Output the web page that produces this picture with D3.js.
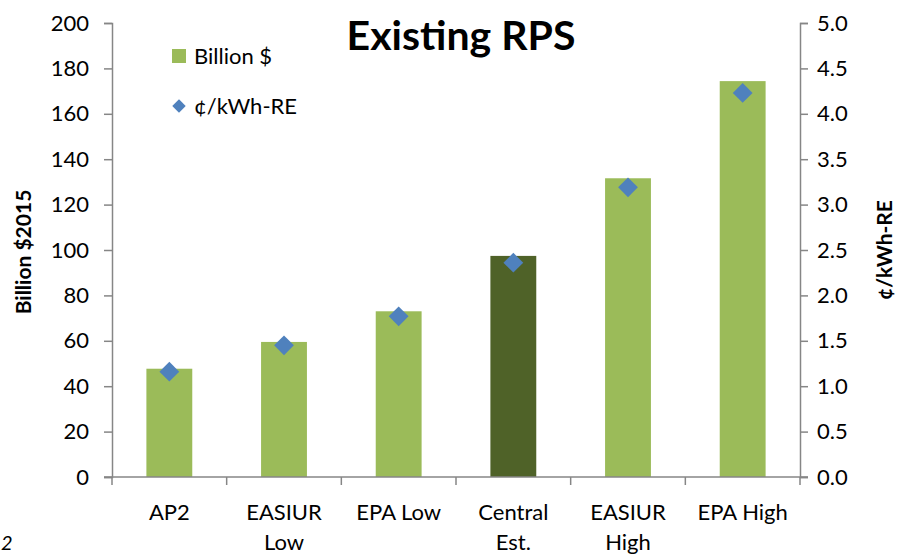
<!DOCTYPE html>
<html>
<head>
<meta charset="utf-8">
<script src="https://cdn.jsdelivr.net/npm/d3@7"></script>
<style>
  body { margin: 0; background: #fff; }
  svg { display: block; font-family: Lato, "Open Sans", sans-serif; }
</style>
</head>
<body>
<div id="chart"></div>
<script>
// data
const categories = ["AP2", "EASIUR Low", "EPA Low", "Central Est.", "EASIUR High", "EPA High"];
const catLines = [["AP2"], ["EASIUR", "Low"], ["EPA Low"], ["Central", "Est."], ["EASIUR", "High"], ["EPA High"]];
const billions = [47.7, 59.5, 73.0, 97.4, 131.6, 174.4];
const centsPerKwh = [1.16, 1.45, 1.77, 2.36, 3.19, 4.23];
const leftTicks = [0, 20, 40, 60, 80, 100, 120, 140, 160, 180, 200];
const rightTicks = [0, 0.5, 1, 1.5, 2, 2.5, 3, 3.5, 4, 4.5, 5];

const W = 897, H = 555;
const margin = {left: 112, right: 97, top: 23, bottom: 78};
const plotW = W - margin.left - margin.right;
const plotH = H - margin.top - margin.bottom;

const green = "#9bbb59", darkGreen = "#4f6228", blue = "#4f81bd", axisCol = "#868686";
const fs = 22;

const svg = d3.select("#chart").append("svg")
  .attr("width", W).attr("height", H);

const g = svg.append("g")
  .attr("transform", `translate(${margin.left}, ${margin.top})`);

const x = d3.scaleBand()
  .domain(categories)
  .range([0, plotW])
  .paddingInner(0.6).paddingOuter(0.3);

const xStep = plotW / categories.length;

const y = d3.scaleLinear().domain([0, 200]).range([plotH, 0]);
const y2 = d3.scaleLinear().domain([0, 5]).range([plotH, 0]);

// bars
g.selectAll("rect.bar")
  .data(categories)
  .join("rect")
  .attr("class", "bar")
  .attr("x", d => x(d))
  .attr("width", x.bandwidth())
  .attr("y", (d, i) => y(billions[i]))
  .attr("height", (d, i) => plotH - y(billions[i]))
  .attr("fill", d => d == "Central Est." ? darkGreen : green);

// left axis
const yAxis = g.append("g")
  .call(d3.axisLeft(y).tickValues(leftTicks).tickSize(8).tickSizeOuter(8).tickPadding(15));
yAxis.selectAll("text").attr("font-size", fs).attr("fill", "#000").attr("font-family", "Lato, sans-serif");

// right axis
const y2Axis = g.append("g")
  .attr("transform", `translate(${plotW}, 0)`)
  .call(d3.axisRight(y2).tickValues(rightTicks).tickFormat(d3.format(".1f")).tickSize(8).tickSizeOuter(8).tickPadding(9));
y2Axis.selectAll("text").attr("font-size", fs).attr("fill", "#000").attr("font-family", "Lato, sans-serif");

// bottom axis: ticks at band boundaries
const xAxisG = g.append("g").attr("transform", `translate(0, ${plotH})`);
xAxisG.append("line")
  .attr("x1", -8).attr("x2", plotW + 8)
  .attr("stroke", axisCol).attr("stroke-width", 1.5);
xAxisG.selectAll("line.tick")
  .data(d3.range(categories.length + 1))
  .join("line")
  .attr("class", "tick")
  .attr("x1", i => i * xStep).attr("x2", i => i * xStep)
  .attr("y1", 0).attr("y2", 8)
  .attr("stroke", axisCol).attr("stroke-width", 1.5);

const xLabels = xAxisG.selectAll("text.xl")
  .data(categories)
  .join("text")
  .attr("class", "xl")
  .attr("text-anchor", "middle")
  .attr("font-size", fs)
  .attr("transform", d => `translate(${x(d) + x.bandwidth() / 2}, 43)`);
xLabels.selectAll("tspan")
  .data((d, i) => catLines[i])
  .join("tspan")
  .attr("x", 0)
  .attr("y", (d, j) => j * 30)
  .text(d => d);

[yAxis, y2Axis].forEach(a => {
  a.selectAll("line").attr("stroke", axisCol).attr("stroke-width", 1.5);
  a.select(".domain").attr("stroke", axisCol).attr("stroke-width", 1.5);
});

// diamonds
const diamond = d3.symbol().type(d3.symbolDiamond2).size(250);
g.selectAll("path.pt")
  .data(categories)
  .join("path")
  .attr("class", "pt")
  .attr("d", diamond)
  .attr("transform", (d, i) => `translate(${x(d) + x.bandwidth() / 2}, ${y2(centsPerKwh[i])})`)
  .attr("fill", blue);

// title
svg.append("text")
  .attr("x", 461).attr("y", 50)
  .attr("text-anchor", "middle")
  .attr("font-size", 41).attr("font-weight", "bold")
  .text("Existing RPS");

// axis titles
svg.append("text")
  .attr("transform", `translate(31, ${margin.top + plotH / 2 + 2}) rotate(-90)`)
  .attr("text-anchor", "middle")
  .attr("font-size", 21).attr("font-weight", "bold")
  .text("Billion $2015");

svg.append("text")
  .attr("transform", `translate(892, ${margin.top + plotH / 2}) rotate(-90)`)
  .attr("text-anchor", "middle")
  .attr("font-size", 21).attr("font-weight", "bold")
  .text("¢/kWh-RE");

// legend
const legend = svg.append("g");
legend.append("rect")
  .attr("x", 172).attr("y", 49).attr("width", 14).attr("height", 14)
  .attr("fill", green);
legend.append("text")
  .attr("x", 194).attr("y", 64).attr("font-size", fs)
  .text("Billion $");
legend.append("path")
  .attr("d", d3.symbol().type(d3.symbolDiamond2).size(115))
  .attr("transform", "translate(179, 106)")
  .attr("fill", blue);
legend.append("text")
  .attr("x", 194).attr("y", 114).attr("font-size", fs)
  .text("¢/kWh-RE");

// stray page fragment at bottom-left
svg.append("text")
  .attr("x", 1).attr("y", 550)
  .attr("font-size", 20).attr("font-style", "italic")
  .text("2");
</script>
</body>
</html>
